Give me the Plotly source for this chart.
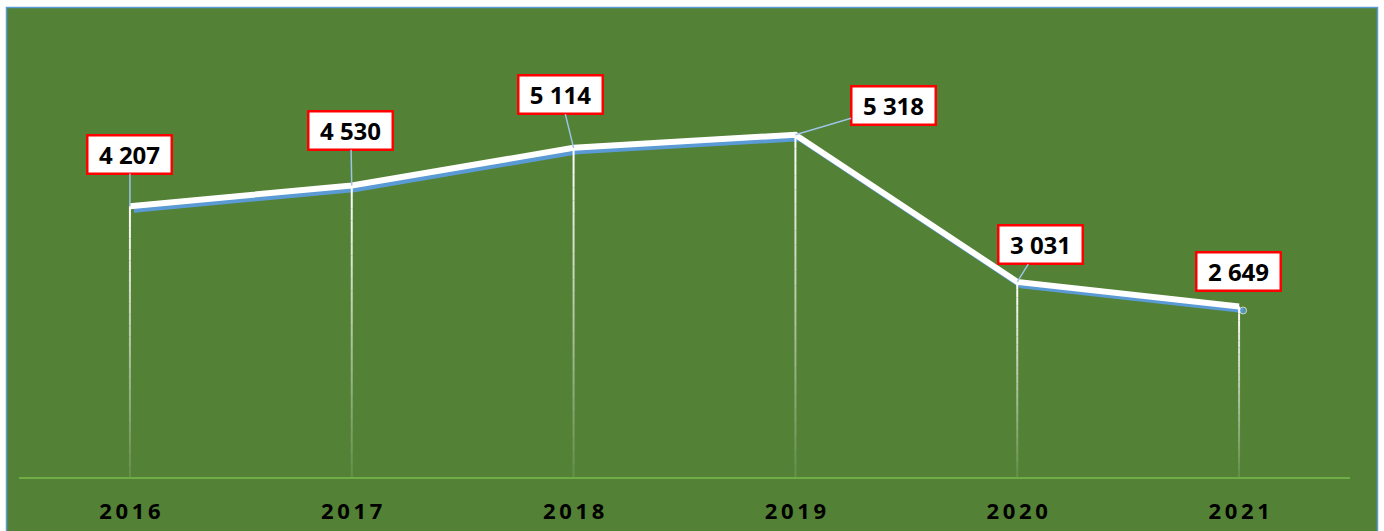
import plotly.graph_objects as go

years = ["2016", "2017", "2018", "2019", "2020", "2021"]
values = [4207, 4530, 5114, 5318, 3031, 2649]
value_labels = ["4 207", "4 530", "5 114", "5 318", "3 031", "2 649"]
tick_labels = ["2\u20090\u20091\u20096", "2\u20090\u20091\u20097", "2\u20090\u20091\u20098",
               "2\u20090\u20091\u20099", "2\u20090\u20092\u20090", "2\u20090\u20092\u20091"]
label_offsets = [(0, -52), (-1, -55), (-13, -53), (98, -29), (23, -37), (-1, -35)]

W, H = 1384, 531
ML, MR, MT, MB = 19, 30, 20, 50
pw = W - ML - MR
ph = H - MT - MB
dx = 4 / pw
dy = 4 / ph
YMAX = 7100

GREEN = "#538135"

fig = go.Figure()

# blue underline (offset subplot, drawn first)
fig.add_trace(go.Scatter(x=years, y=values, mode="lines+markers", xaxis="x", yaxis="y",
                         line=dict(color="#5B9BD5", width=5),
                         marker=dict(size=[0, 0, 0, 0, 0, 7], color="#5B9BD5"),
                         hoverinfo="skip", showlegend=False))

# fading drop lines, drawn as segment traces
N = 25
for k in range(N):
    xs, ys = [], []
    for x, v in zip(years, values):
        xs += [x, x, None]
        ys += [v * k / N, v * (k + 1) / N, None]
    fig.add_trace(go.Scatter(x=xs, y=ys, mode="lines", xaxis="x2", yaxis="y2",
                             line=dict(color="white", width=2),
                             opacity=0.08 + 0.92 * (k + 1) / N,
                             hoverinfo="skip", showlegend=False))

# white main line
fig.add_trace(go.Scatter(x=years, y=values, mode="lines", xaxis="x2", yaxis="y2",
                         line=dict(color="white", width=6),
                         showlegend=False))

for i, v in enumerate(values):
    ax, ay = label_offsets[i]
    fig.add_annotation(x=i, y=v, xref="x2", yref="y2", text="<b>%s</b>" % value_labels[i],
                       showarrow=True, arrowhead=0, arrowwidth=1.5,
                       arrowcolor="#9DC3E6" if i < 5 else "rgba(0,0,0,0)",
                       ax=ax, ay=ay, standoff=0,
                       font=dict(family="Open Sans", size=24, color="black"),
                       bgcolor="white", bordercolor="#FF0000", borderwidth=2.5,
                       borderpad=2, width=78, height=32, align="center")

# outer green panel
px = lambda p: (p - ML) / pw
py = lambda p: (H - MB - p) / ph
fig.add_shape(type="rect", xref="paper", yref="paper",
              x0=px(6.5), x1=px(1377.5), y0=py(545), y1=py(7.5),
              fillcolor=GREEN, line=dict(color="#5B9BD5", width=1.5), layer="below")

fig.update_layout(
    width=W, height=H,
    margin=dict(l=ML, r=MR, t=MT, b=MB, autoexpand=False),
    paper_bgcolor="white", plot_bgcolor="rgba(0,0,0,0)",
    showlegend=False,
    xaxis=dict(domain=[dx, 1], type="category", range=[-0.5, 5.5], anchor="y",
               visible=False, showgrid=False),
    yaxis=dict(domain=[0, 1 - dy], range=[0, YMAX], anchor="x", visible=False, showgrid=False),
    xaxis2=dict(domain=[0, 1 - dx], type="category", range=[-0.5, 5.5], anchor="y2",
                tickvals=years, ticktext=tick_labels, automargin=False,
                tickfont=dict(family="Open Sans", size=22, color="black", weight="bold"),
                showgrid=False, zeroline=False, showline=True, linecolor="#70AD47", linewidth=2,
                ticks="", ticklabelstandoff=14),
    yaxis2=dict(domain=[dy, 1], range=[0, YMAX], anchor="x2", visible=False, showgrid=False),
)

fig.write_html("out.html", config={"displayModeBar": False},
               post_script="document.body.style.margin='0px';")
